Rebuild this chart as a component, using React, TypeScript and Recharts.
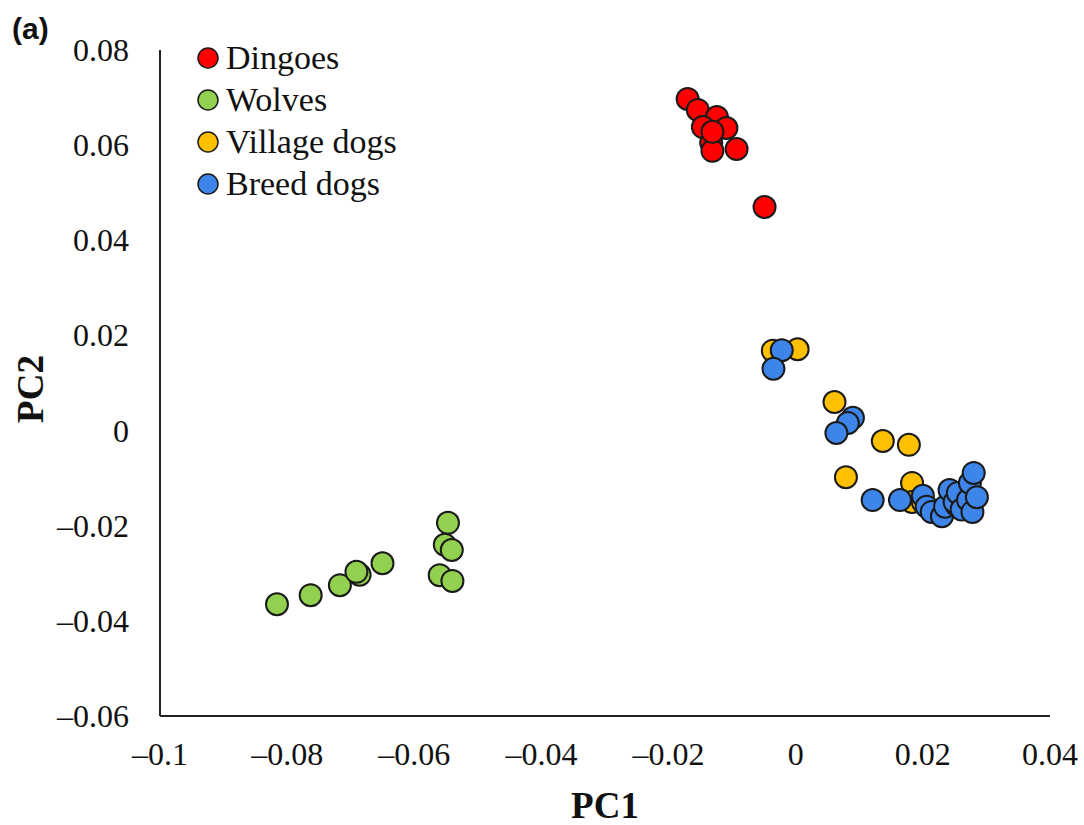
import React from 'react';
import { ScatterChart, Scatter, XAxis, YAxis } from 'recharts';

type Pt = [number, number];

const dingoes: Pt[] = [
  [-0.0170, 0.0697], [-0.0154, 0.0674], [-0.0124, 0.0659], [-0.0146, 0.0638],
  [-0.0109, 0.0636], [-0.0133, 0.0605], [-0.0131, 0.0588], [-0.0093, 0.0592],
  [-0.0131, 0.0628], [-0.0049, 0.0470],
];

const wolves: Pt[] = [
  [-0.0816, -0.0365], [-0.0763, -0.0346], [-0.0717, -0.0325], [-0.0686, -0.0303],
  [-0.0691, -0.0297], [-0.0650, -0.0279], [-0.0547, -0.0194], [-0.0552, -0.0240],
  [-0.0541, -0.0251], [-0.0560, -0.0304], [-0.0540, -0.0316],
];

const villageDogs: Pt[] = [
  [-0.0036, 0.0168], [0.0003, 0.0171], [0.0061, 0.0060], [0.0137, -0.0022],
  [0.0178, -0.0030], [0.0079, -0.0098], [0.0183, -0.0110], [0.0183, -0.0150],
  [0.0200, -0.0150],
];

const breedDogs: Pt[] = [
  [-0.0022, 0.0169], [-0.0035, 0.0130], [0.0090, 0.0027], [0.0082, 0.0016],
  [0.0064, -0.0005], [0.0121, -0.0146], [0.0164, -0.0146], [0.0200, -0.0137],
  [0.0206, -0.0160], [0.0214, -0.0171], [0.0230, -0.0180], [0.0235, -0.0160],
  [0.0242, -0.0125], [0.0253, -0.0157], [0.0250, -0.0150], [0.0255, -0.0131],
  [0.0261, -0.0166], [0.0271, -0.0146], [0.0274, -0.0110], [0.0278, -0.0171],
  [0.0285, -0.0140], [0.0280, -0.0089],
];

const xTicks = [-0.1, -0.08, -0.06, -0.04, -0.02, 0, 0.02, 0.04];
const yTicks = [-0.06, -0.04, -0.02, 0, 0.02, 0.04, 0.06, 0.08];

const seriesNames = ['Dingoes', 'Wolves', 'Village dogs', 'Breed dogs'];
const seriesColors = ['#FF0000', '#92D050', '#FFC000', '#3D85E8'];
const seriesData = [dingoes, wolves, villageDogs, breedDogs];

const SERIF = '"Liberation Serif", "Times New Roman", serif';
const SANS = '"Liberation Sans", Arial, sans-serif';

const toPts = (a: Pt[]) => a.map(([x, y]) => ({ x, y }));

const fmt = (v: number) => {
  if (Math.abs(v) < 1e-9) return '0';
  const s = String(parseFloat(Math.abs(v).toFixed(2)));
  return v < 0 ? '\u2013' + s : s;
};

const XTick = (props: any) => {
  const { x, y, payload } = props;
  return (
    <text x={x} y={y + 49} textAnchor="middle" fontFamily={SERIF} fontSize={32} fill="#111">
      {fmt(payload.value)}
    </text>
  );
};

const YTick = (props: any) => {
  const { x, y, payload } = props;
  return (
    <text x={x - 31} y={y + 11} textAnchor="end" fontFamily={SERIF} fontSize={32} fill="#111">
      {fmt(payload.value)}
    </text>
  );
};

const makeShape = (color: string) => (p: any) => (
  <circle cx={p.cx} cy={p.cy} r={11} fill={color} stroke="#1a1a1a" strokeWidth={2} />
);

export default function App() {
  return (
    <div style={{ position: 'absolute', left: 0, top: 0, width: 1084, height: 825, background: '#fff' }}>
      <ScatterChart width={1084} height={825} margin={{ top: 50, right: 34, bottom: 9, left: 0 }}>
        <XAxis
          type="number"
          dataKey="x"
          domain={[-0.1, 0.04]}
          ticks={xTicks}
          allowDataOverflow
          height={100}
          tickLine={false}
          tickSize={0}
          tickMargin={0}
          axisLine={{ stroke: '#222', strokeWidth: 2 }}
          tick={<XTick />}
          interval={0}
        />
        <YAxis
          type="number"
          dataKey="y"
          domain={[-0.06, 0.08]}
          ticks={yTicks}
          allowDataOverflow
          width={160}
          tickLine={false}
          tickSize={0}
          tickMargin={0}
          axisLine={{ stroke: '#222', strokeWidth: 2 }}
          tick={<YTick />}
          interval={0}
        />
        {seriesData.map((d, i) => (
          <Scatter
            key={seriesNames[i]}
            name={seriesNames[i]}
            data={toPts(d)}
            fill={seriesColors[i]}
            shape={makeShape(seriesColors[i])}
            isAnimationActive={false}
          />
        ))}
      </ScatterChart>

      <div style={{ position: 'absolute', left: 12, top: 14, fontFamily: SANS, fontWeight: 'bold', fontSize: 30, lineHeight: 1, color: '#111' }}>
        (a)
      </div>

      <div style={{ position: 'absolute', left: 0, top: 784, width: 1210, textAlign: 'center', fontFamily: SERIF, fontWeight: 'bold', fontSize: 37, lineHeight: '44px', color: '#111' }}>
        PC1
      </div>

      <div style={{ position: 'absolute', left: 31 - 50, top: 389 - 22, width: 100, height: 44, textAlign: 'center', fontFamily: SERIF, fontWeight: 'bold', fontSize: 37, lineHeight: '44px', color: '#111', transform: 'rotate(-90deg)' }}>
        PC2
      </div>

      <div style={{ position: 'absolute', left: 196, top: 37, fontFamily: SERIF, fontSize: 34, color: '#111' }}>
        {seriesNames.map((n, i) => (
          <div key={n} style={{ display: 'flex', alignItems: 'center', height: 42 }}>
            <svg width={24} height={24} style={{ marginRight: 6 }}>
              <circle cx={12} cy={12} r={10} fill={seriesColors[i]} stroke="#1a1a1a" strokeWidth={1.5} />
            </svg>
            <span style={{ lineHeight: '42px' }}>{n}</span>
          </div>
        ))}
      </div>
    </div>
  );
}
